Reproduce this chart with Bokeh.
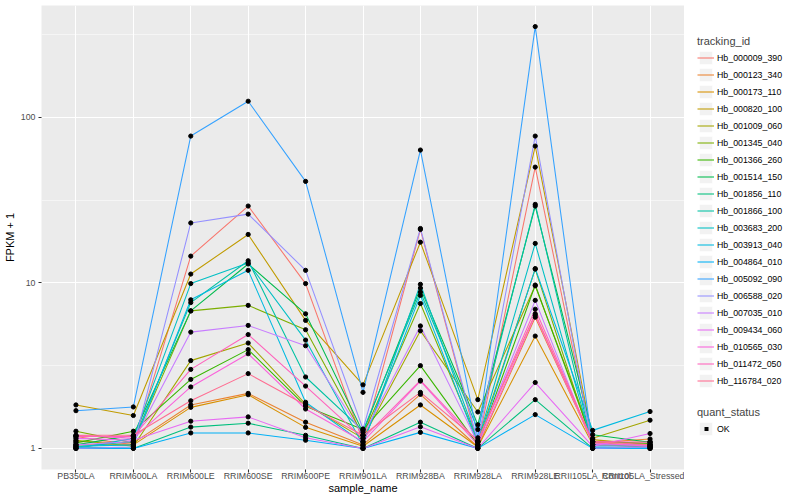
from bokeh.plotting import figure
from bokeh.layouts import row
from bokeh.models import FactorRange, Range1d, FixedTicker, Legend, LegendItem, ColumnDataSource
from bokeh.embed import file_html
from bokeh.resources import INLINE

samples = ["PB350LA", "RRIM600LA", "RRIM600LE", "RRIM600SE", "RRIM600PE", "RRIM901LA",
           "RRIM928BA", "RRIM928LA", "RRIM928LE", "RRII105LA_Control", "RRII105LA_Stressed"]

tracking_ids = ["Hb_000009_390", "Hb_000123_340", "Hb_000173_110", "Hb_000820_100", "Hb_001009_060",
                "Hb_001345_040", "Hb_001366_260", "Hb_001514_150", "Hb_001856_110", "Hb_001866_100",
                "Hb_003683_200", "Hb_003913_040", "Hb_004864_010", "Hb_005092_090", "Hb_006588_020",
                "Hb_007035_010", "Hb_009434_060", "Hb_010565_030", "Hb_011472_050", "Hb_116784_020"]

# FPKM + 1 per sample (order of `samples`)
hb_000009_390 = [1.18, 1.05, 14.5, 29.1, 9.9, 1.10, 21.0, 1.05, 50.0, 1.05, 1.02]
hb_000123_340 = [1.10, 1.08, 1.83, 2.15, 1.44, 1.05, 2.12, 1.02, 6.2, 1.08, 1.14]
hb_000173_110 = [1.05, 1.05, 1.77, 2.11, 1.34, 1.03, 1.83, 1.02, 4.77, 1.06, 1.10]
hb_000820_100 = [1.83, 1.58, 11.3, 19.6, 5.93, 2.42, 17.6, 1.97, 67.0, 1.13, 1.05]
hb_001009_060 = [1.12, 1.03, 3.39, 4.33, 1.85, 1.15, 5.13, 1.66, 9.6, 1.15, 1.48]
hb_001345_040 = [1.27, 1.08, 6.77, 7.31, 5.21, 1.20, 7.5, 1.10, 12.1, 1.05, 1.03]
hb_001366_260 = [1.08, 1.27, 2.61, 3.95, 1.80, 1.30, 3.16, 1.05, 9.7, 1.10, 1.07]
hb_001514_150 = [1.05, 1.20, 6.77, 13.0, 6.5, 1.25, 9.3, 1.39, 29.1, 1.21, 1.09]
hb_001856_110 = [1.02, 1.00, 1.345, 1.42, 1.20, 1.00, 1.44, 1.00, 1.97, 1.00, 1.00]
hb_001866_100 = [1.02, 1.10, 7.6, 13.6, 2.70, 1.28, 8.8, 1.30, 29.8, 1.02, 1.00]
hb_003683_200 = [1.00, 1.15, 9.9, 13.2, 4.51, 1.05, 9.8, 1.10, 17.3, 1.05, 1.05]
hb_003913_040 = [1.03, 1.05, 7.9, 11.9, 1.90, 1.08, 8.4, 1.05, 12.2, 1.285, 1.67]
hb_004864_010 = [1.00, 1.00, 1.24, 1.24, 1.12, 1.00, 1.25, 1.00, 1.60, 1.00, 1.00]
hb_005092_090 = [1.69, 1.78, 77.0, 125.0, 41.0, 2.18, 63.4, 1.16, 353.0, 1.02, 1.02]
hb_006588_020 = [1.00, 1.02, 23.0, 26.0, 11.9, 1.31, 21.3, 1.10, 77.0, 1.00, 1.02]
hb_007035_010 = [1.05, 1.10, 5.04, 5.53, 4.17, 1.20, 5.49, 1.08, 7.84, 1.05, 1.05]
hb_009434_060 = [1.15, 1.12, 1.46, 1.55, 1.16, 1.00, 1.35, 1.00, 2.50, 1.03, 1.23]
hb_010565_030 = [1.20, 1.15, 2.35, 3.73, 1.73, 1.10, 2.55, 1.05, 6.36, 1.08, 1.03]
hb_011472_050 = [1.18, 1.18, 3.00, 4.87, 2.38, 1.15, 2.58, 1.10, 6.93, 1.10, 1.09]
hb_116784_020 = [1.20, 1.20, 1.94, 2.83, 1.83, 1.20, 2.18, 1.12, 6.5, 1.10, 1.05]

series = [hb_000009_390, hb_000123_340, hb_000173_110, hb_000820_100, hb_001009_060,
          hb_001345_040, hb_001366_260, hb_001514_150, hb_001856_110, hb_001866_100,
          hb_003683_200, hb_003913_040, hb_004864_010, hb_005092_090, hb_006588_020,
          hb_007035_010, hb_009434_060, hb_010565_030, hb_011472_050, hb_116784_020]

colors = ["#F8766D", "#EA8331", "#D89000", "#C09B00", "#A3A500", "#7CAE00", "#39B600", "#00BB4E",
          "#00BF7D", "#00C1A3", "#00BFC4", "#00BAE0", "#00B0F6", "#35A2FF", "#9590FF", "#C77CFF",
          "#E76BF3", "#FA62DB", "#FF62BC", "#FF6C91"]

y_ticks = [1, 10, 100]
y_tick_labels = {1: "1", 10: "10", 100: "100"}

FONT = "Liberation Sans"

p = figure(width=684, height=500,
           x_range=FactorRange(*samples, range_padding=0.1, range_padding_units="absolute"),
           y_range=Range1d(10 ** -0.1274, 10 ** 2.6752), y_axis_type="log",
           output_backend="svg", toolbar_location=None,
           min_border_left=40, min_border_right=0, min_border_top=5, min_border_bottom=31)

p.background_fill_color = "#EBEBEB"
p.border_fill_color = "white"
p.outline_line_color = None

p.yaxis.ticker = FixedTicker(ticks=y_ticks, minor_ticks=[10 ** 0.5, 10 ** 1.5, 10 ** 2.5])
p.yaxis.major_label_overrides = y_tick_labels

p.xgrid.grid_line_color = "white"
p.xgrid.grid_line_width = 1.07
p.ygrid.grid_line_color = "white"
p.ygrid.grid_line_width = 1.07
p.ygrid.minor_grid_line_color = "white"
p.ygrid.minor_grid_line_width = 0.53

for ax in (p.xaxis[0], p.yaxis[0]):
    ax.axis_line_color = None
    ax.major_tick_line_color = "#333333"
    ax.major_tick_line_width = 1.07
    ax.major_tick_out = 3
    ax.major_tick_in = 0
    ax.minor_tick_line_color = None
    ax.major_label_text_font = FONT
    ax.major_label_text_font_size = "8.8px"
    ax.major_label_text_color = "#4D4D4D"
    ax.axis_label_text_font = FONT
    ax.axis_label_text_font_size = "11px"
    ax.axis_label_text_font_style = "normal"
    ax.axis_label_text_color = "black"

p.xaxis.major_label_standoff = -2
p.xaxis.axis_label_standoff = -2
p.yaxis.major_label_standoff = 2
p.yaxis.axis_label_standoff = 2

p.xaxis.axis_label = "sample_name"
p.yaxis.axis_label = "FPKM + 1"

for vals, c in zip(series, colors):
    p.line(x=samples, y=vals, line_color=c, line_width=1.07)

all_x = [s for vals in series for s in samples]
all_y = [v for vals in series for v in vals]
pts_src = ColumnDataSource(dict(x=all_x, y=all_y))
p.scatter(x="x", y="y", source=pts_src, size=4.2, color="black", marker="circle")

# ---- legend panel ----
lp = figure(width=116, height=500, x_range=Range1d(0, 1), y_range=Range1d(0, 1),
            x_axis_type=None, y_axis_type=None, output_backend="svg", toolbar_location=None,
            min_border=0)
lp.outline_line_color = None
lp.grid.visible = False
lp.background_fill_color = "white"
lp.border_fill_color = "white"

bg = lp.rect(x=[-5], y=[-5], width=0.1, height=0.1,
             fill_color="#F2F2F2", line_color="white", line_width=1)
key_lines = [lp.line(x=[-5, -4], y=[-5, -5], line_color=c, line_width=1.07) for c in colors]
# small black square key for the point layer
key_pt = lp.line(x=[-5, -4], y=[-5, -5], line_color="black", line_width=4,
                 line_dash="4 13", line_dash_offset=10, line_cap="butt")

def style_legend(lg):
    lg.padding = 0
    lg.margin = 0
    lg.spacing = 0
    lg.glyph_height = 17
    lg.glyph_width = 17
    lg.label_height = 17
    lg.label_standoff = 3
    lg.label_text_font = FONT
    lg.label_text_font_size = "8.8px"
    lg.label_text_color = "black"
    lg.title_text_font = FONT
    lg.title_text_font_size = "11px"
    lg.title_text_font_style = "normal"
    lg.title_standoff = 2
    lg.border_line_color = None
    lg.background_fill_alpha = 0

items = [LegendItem(label=t, renderers=[bg, r]) for t, r in zip(tracking_ids, key_lines)]
lg1 = Legend(items=items, title="tracking_id", location=(13, 80))
style_legend(lg1)
lp.add_layout(lg1)

lg2 = Legend(items=[LegendItem(label="OK", renderers=[bg, key_pt])], title="quant_status", location=(13, 32))
style_legend(lg2)
lp.add_layout(lg2)

layout = row(p, lp, spacing=0)
open("out.html", "w").write(file_html(layout, INLINE))
